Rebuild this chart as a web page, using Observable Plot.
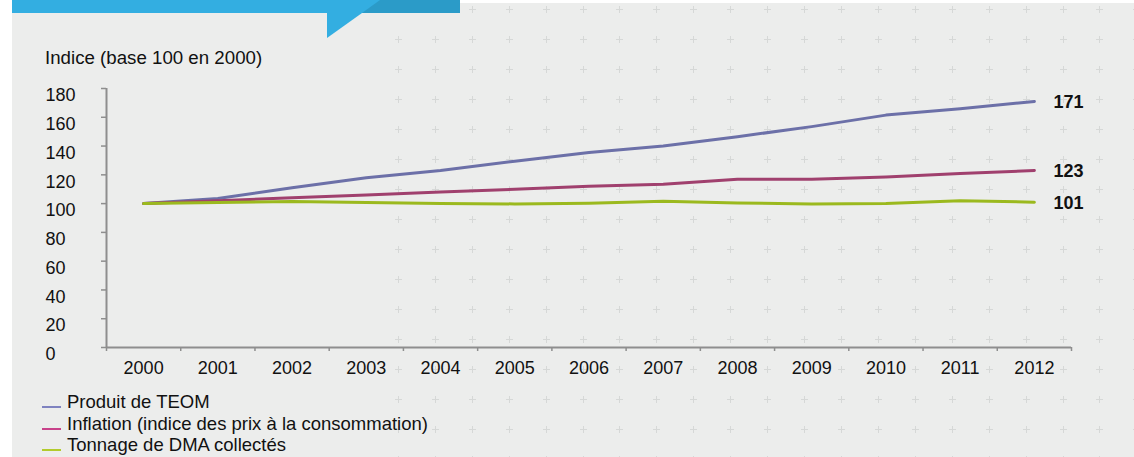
<!DOCTYPE html>
<html>
<head>
<meta charset="utf-8">
<script src="https://cdn.jsdelivr.net/npm/d3@7"></script>
<script src="https://cdn.jsdelivr.net/npm/@observablehq/plot@0.6"></script>
<style>
  html, body { margin: 0; padding: 0; background: #ffffff; }
  #page { position: relative; width: 1134px; height: 457px; overflow: hidden; font-family: "Liberation Sans", Arial, sans-serif; color: #111; }
  #panel { position: absolute; left: 12px; top: 3px; width: 1122px; height: 454px; background: #ecedec; }
  #pluses { position: absolute; left: 380px; top: 0; width: 754px; height: 457px;
    background-image: url("data:image/svg+xml;utf8,<svg xmlns='http://www.w3.org/2000/svg' width='37' height='30' viewBox='0 0 37 30'><path d='M15 15.5h7M18.5 12v7' stroke='%23d6d8d7' stroke-width='1' fill='none'/></svg>");
    background-size: 36.93px 30px; background-position: 0px -5.7px; background-repeat: repeat; }
  #banner { position: absolute; left: 12px; top: 0; width: 448px; height: 13px; background: #33aee1; }
  #bannerDark { position: absolute; left: 12px; top: 0; width: 448px; height: 13px; background: #2b9bc8;
    clip-path: polygon(368px 0, 448px 0, 448px 13px, 350px 13px); }
  #pointer { position: absolute; left: 327px; top: 13px; width: 35px; height: 25px; background: #33aee1;
    clip-path: polygon(0 0, 100% 0, 0 100%); }
  #ylabel { position: absolute; left: 45px; top: 47px; font-size: 18.7px; line-height: 22px; white-space: nowrap; }
  #chart { position: absolute; left: 0; top: 70px; }
  #legend { position: absolute; left: 42px; top: 391px; font-size: 18.5px; line-height: 21.7px; }
  .item { white-space: nowrap; }
  .sw { display: inline-block; width: 19px; height: 0; border-bottom: 2px solid; margin-right: 6px; vertical-align: baseline; }
</style>
</head>
<body>
<div id="page">
  <div id="panel"></div>
  <div id="pluses"></div>
  <div id="banner"></div>
  <div id="bannerDark"></div>
  <div id="pointer"></div>
  <div id="ylabel">Indice (base 100 en 2000)</div>
  <div id="chart"></div>
  <div id="legend"></div>
</div>
<script>
const years = [2000, 2001, 2002, 2003, 2004, 2005, 2006, 2007, 2008, 2009, 2010, 2011, 2012];
const teom = [100, 103.5, 111, 118, 123, 129.5, 135.5, 140, 146.5, 153.5, 161.5, 166, 171];
const inflation = [100, 102, 104, 106, 108, 110, 112, 113.5, 117, 117, 118.5, 121, 123];
const dma = [100, 100.8, 101.5, 100.8, 100, 99.8, 100.2, 101.6, 100.5, 99.8, 100, 102, 101];
const seriesNames = ["Produit de TEOM", "Inflation (indice des prix à la consommation)", "Tonnage de DMA collectés"];
const endLabels = ["171", "123", "101"];
const yTicks = [0, 20, 40, 60, 80, 100, 120, 140, 160, 180];
const lineColors = ["#6c70a8", "#a0406e", "#9bb91e"];
const swatchColors = ["#7f83c0", "#c8428a", "#b2cb2c"];

const seriesValues = [teom, inflation, dma];
const rows = [];
seriesNames.forEach((s, i) => years.forEach((yr, j) => rows.push({series: s, year: yr, value: seriesValues[i][j]})));
const lastRows = seriesNames.map((s, i) => ({series: s, year: years[years.length - 1], value: seriesValues[i][years.length - 1], label: endLabels[i]}));
const xDomain = [years[0] - 0.5, years[years.length - 1] + 0.5];
const bounds = years.map(y => y - 0.5).concat([years[years.length - 1] + 0.5]);

const chart = Plot.plot({
  width: 1134,
  height: 310,
  marginLeft: 106,
  marginRight: 63,
  marginTop: 18,
  marginBottom: 33,
  style: {background: "transparent", fontFamily: "Liberation Sans, Arial, sans-serif", fontSize: "18px", color: "#111", overflow: "visible"},
  x: {type: "linear", domain: xDomain},
  y: {domain: [0, 180]},
  color: {domain: seriesNames, range: lineColors},
  marks: [
    Plot.axisY(yTicks, {anchor: "left", tickSize: 5, tickFormat: () => "", stroke: "#8e8e8e", strokeWidth: 1.5, label: null}),
    Plot.axisY(yTicks, {anchor: "left", tickSize: 0, tickPadding: 0, textAnchor: "start", dx: -61, dy: 7, label: null}),
    Plot.axisX(bounds, {anchor: "bottom", tickSize: 4, tickFormat: () => "", stroke: "#8e8e8e", strokeWidth: 1.5, label: null}),
    Plot.axisX(years, {anchor: "bottom", tickSize: 0, tickPadding: 14, tickFormat: d => String(d), label: null}),
    Plot.ruleX([xDomain[0]], {stroke: "#8e8e8e", strokeWidth: 2}),
    Plot.ruleY([0], {stroke: "#8e8e8e", strokeWidth: 2}),
    Plot.line(rows, {x: "year", y: "value", z: "series", stroke: "series", strokeWidth: 3}),
    Plot.text(lastRows, {x: "year", y: "value", text: "label", textAnchor: "start", dx: 19, dy: 1, fontWeight: "bold", fill: "#111"})
  ]
});
document.getElementById("chart").appendChild(chart);

const legend = document.getElementById("legend");
seriesNames.forEach((s, i) => {
  const d = document.createElement("div");
  d.className = "item";
  const sw = document.createElement("span");
  sw.className = "sw";
  sw.style.borderColor = swatchColors[i];
  d.appendChild(sw);
  d.appendChild(document.createTextNode(s));
  legend.appendChild(d);
});
</script>
</body>
</html>
